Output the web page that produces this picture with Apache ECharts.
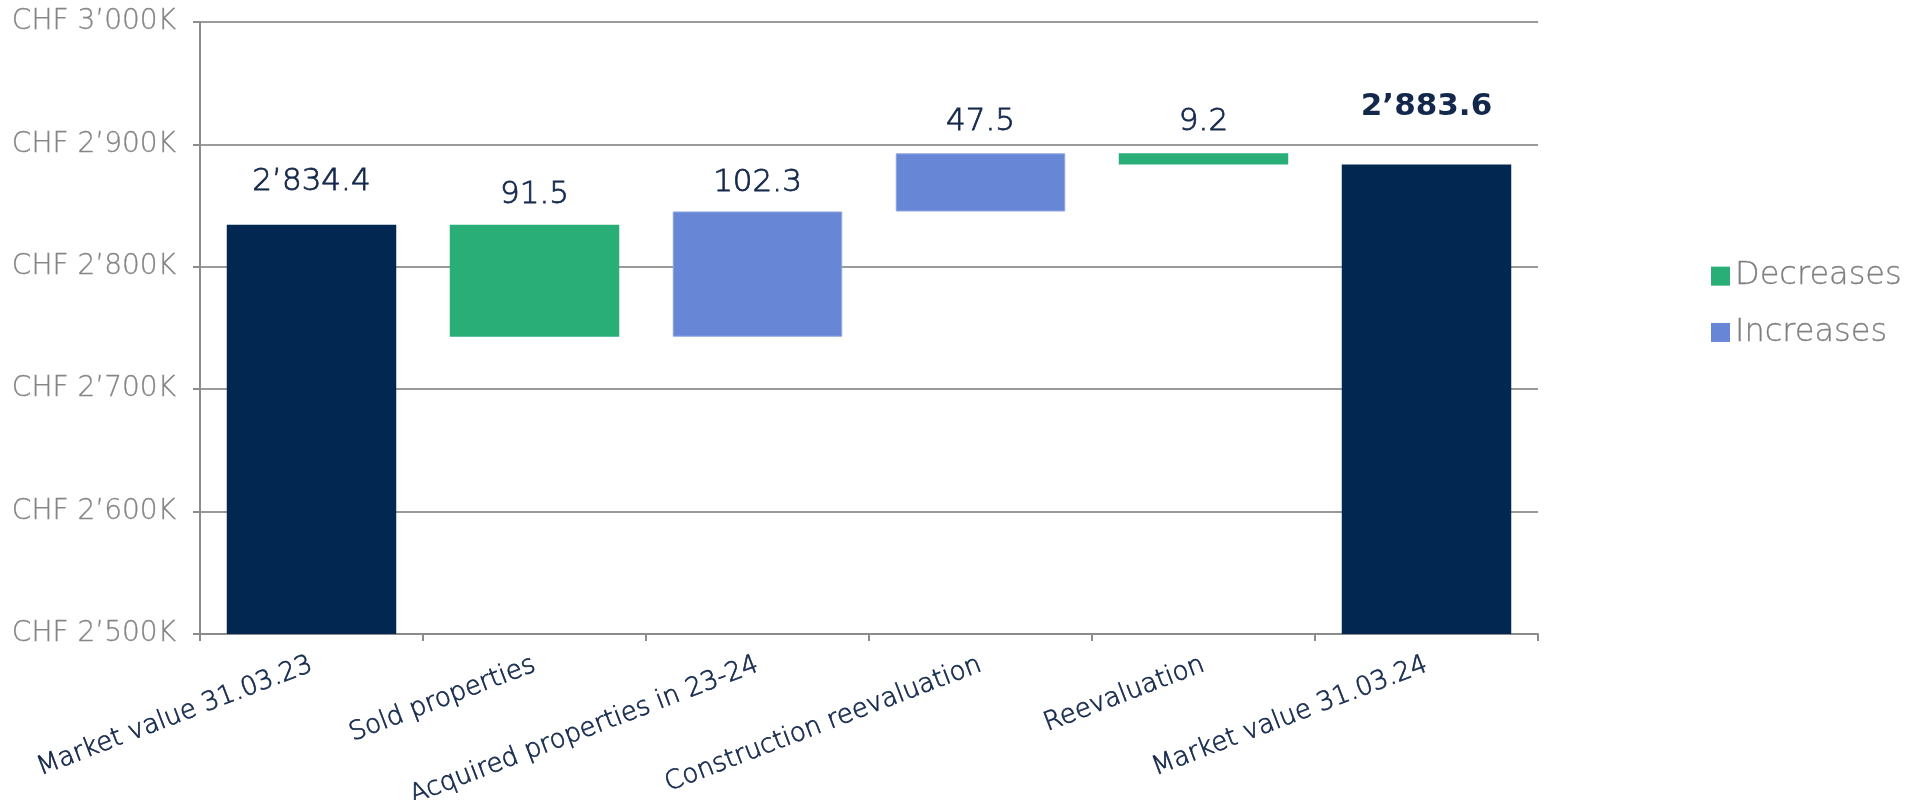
<!DOCTYPE html>
<html>
<head>
<meta charset="utf-8">
<script src="https://cdn.jsdelivr.net/npm/echarts@6/dist/echarts.min.js"></script>
<style>
  html, body { margin: 0; padding: 0; background: #fff; }
  #chart { width: 1926px; height: 800px; }
</style>
</head>
<body>
<div id="chart"></div>
<script>
// values in CHF thousand
var categories = ['Market value 31.03.23', 'Sold properties', 'Acquired properties in 23-24',
                  'Construction reevaluation', 'Reevaluation', 'Market value 31.03.24'];
var startValue = 2834.4;
var endValue = 2883.6;
var changes = [-91.5, 102.3, 47.5, -9.2];   // sold, acquired, construction, reevaluation
var yTicks = [2500, 2600, 2700, 2800, 2900, 3000];

var navy = '#022852', green = '#29AE78', blue = '#6886D6', ink = '#14284b';
var font = 'DejaVu Sans';
var labelGap = [27, 14, 13, 16, 16, 42];   // how far each value sits above its bar

function swiss(v, dec) {
  var s = v.toFixed(dec).split('.');
  s[0] = s[0].replace(/\B(?=(\d{3})+(?!\d))/g, '\u2019');
  return s.join('.');
}

// waterfall: transparent base + visible pieces
var base = [], dec = [], inc = [], total = [];
var running = startValue;
total.push(startValue); base.push('-'); dec.push('-'); inc.push('-');
changes.forEach(function (c) {
  if (c < 0) {
    base.push(running + c); dec.push(-c); inc.push('-');
  } else {
    base.push(running); inc.push(c); dec.push('-');
  }
  total.push('-');
  running += c;
});
total.push(endValue); base.push('-'); dec.push('-'); inc.push('-');

function withLabels(arr, bold) {
  return arr.map(function (v, i) {
    if (v === '-') return v;
    var isBold = bold && i === arr.length - 1;
    return {
      value: v,
      label: {
        show: true, position: 'top', distance: labelGap[i],
        formatter: swiss(v, 1),
        fontWeight: isBold ? 'bold' : 200,
        textBorderWidth: isBold ? 0 : 0.8
      }
    };
  });
}

var chart = echarts.init(document.getElementById('chart'));
// thin face thickened a little with a same-colour outline
var labelStyle = { color: ink, fontSize: 31, fontFamily: font, textBorderColor: ink };

chart.setOption({
  animation: false,
  textStyle: { fontFamily: font },
  grid: { left: 200, right: 388, top: 22, bottom: 166, containLabel: false, outerBoundsMode: 'none' },
  legend: {
    orient: 'vertical', left: 1706, top: 255,
    data: ['Decreases', 'Increases'],
    icon: 'rect', itemWidth: 19, itemHeight: 19, itemGap: 24, itemStyle: { borderWidth: 0 },
    textStyle: { color: '#7f7f7f', fontSize: 32, fontFamily: font, fontWeight: 200,
                 textBorderColor: '#7f7f7f', textBorderWidth: 0.3 }
  },
  xAxis: {
    type: 'category', data: categories,
    axisLine: { lineStyle: { color: '#8c8c8c', width: 2 } },
    axisTick: { show: true, length: 7, lineStyle: { color: '#8c8c8c', width: 2 } },
    axisLabel: {
      interval: 0, rotate: 21, margin: 30,
      color: ink, fontSize: 26, fontFamily: font, fontWeight: 200,
      textBorderColor: ink, textBorderWidth: 0.7
    }
  },
  yAxis: {
    type: 'value', min: yTicks[0], max: yTicks[yTicks.length - 1], interval: 100,
    axisLine: { show: true, lineStyle: { color: '#8c8c8c', width: 2 } },
    axisTick: { show: true, length: 7, lineStyle: { color: '#8c8c8c', width: 2 } },
    splitLine: { lineStyle: { color: '#9a9a9a', width: 2 } },
    axisLabel: {
      margin: 24, color: '#858585', fontSize: 28, fontFamily: font, fontWeight: 200,
      textBorderColor: '#858585', textBorderWidth: 0.3,
      formatter: function (v) { return 'CHF ' + swiss(v, 0) + 'K'; }
    }
  },
  series: [
    { name: 'base', type: 'bar', stack: 'w', barWidth: '76%', silent: true,
      itemStyle: { color: 'transparent' }, data: base },
    { name: 'Decreases', type: 'bar', stack: 'w', barWidth: '76%',
      itemStyle: { color: green }, label: labelStyle, data: withLabels(dec) },
    { name: 'Increases', type: 'bar', stack: 'w', barWidth: '76%',
      itemStyle: { color: blue, borderColor: '#8fa5e2', borderWidth: 1 }, label: labelStyle, data: withLabels(inc) },
    { name: 'Total', type: 'bar', stack: 'w', barWidth: '76%',
      itemStyle: { color: navy }, label: labelStyle, data: withLabels(total, true) }
  ]
});
</script>
</body>
</html>
